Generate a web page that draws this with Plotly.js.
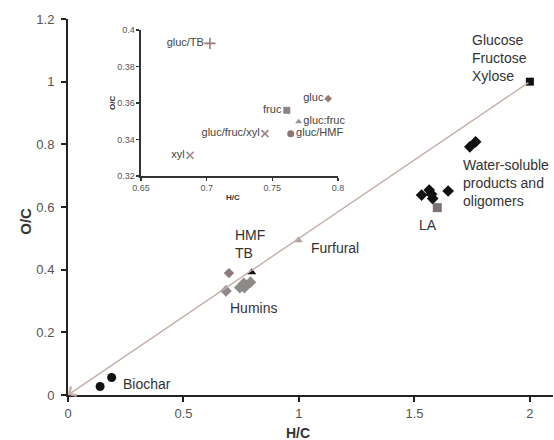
<!DOCTYPE html>
<html>
<head>
<meta charset="utf-8">
<script src="https://cdn.plot.ly/plotly-3.0.1.min.js"></script>
<style>html,body{margin:0;padding:0;background:#fff;}#chart{width:554px;height:440px;}</style>
</head>
<body>
<div id="chart"></div>
<script>
// ---- main chart data (H/C, O/C) ----
var sugarsX = [2.0];
var sugarsY = [1.0];
var waterSolX = [1.74, 1.765, 1.531, 1.564, 1.574, 1.579, 1.646];
var waterSolY = [0.792, 0.808, 0.638, 0.654, 0.641, 0.627, 0.651];
var laX = [1.599];
var laY = [0.598];
var furfuralX = [0.997];
var furfuralY = [0.494];
var hmfX = [0.697];
var hmfY = [0.389];
var tbX = [0.795];
var tbY = [0.392];
var huminsX = [0.684, 0.744, 0.761, 0.764, 0.770, 0.790];
var huminsY = [0.332, 0.343, 0.356, 0.343, 0.350, 0.360];
var biocharX = [0.139, 0.189];
var biocharY = [0.027, 0.056];
var refLineX = [0, 2];
var refLineY = [0, 1];

// ---- inset data (humins from different feeds) ----
var insetLabels = ["gluc/TB", "gluc", "fruc", "gluc:fruc", "gluc/HMF", "gluc/fruc/xyl", "xyl"];
var insetX = [0.7025, 0.7925, 0.761, 0.770, 0.764, 0.7444, 0.6873];
var insetY = [0.3927, 0.3624, 0.356, 0.3498, 0.3432, 0.3432, 0.3313];

var FONT = "Arial, 'Liberation Sans', sans-serif";

function mk(x, y, sym, color, size, xa, ya) {
  return {x: x, y: y, type: 'scatter', mode: 'markers', xaxis: xa || 'x', yaxis: ya || 'y',
    marker: {symbol: sym, color: color, size: size, line: {width: 0}}, hoverinfo: 'x+y', showlegend: false};
}

var traces = [
  mk(sugarsX, sugarsY, 'square', '#111', 8),
  mk(waterSolX, waterSolY, 'diamond', '#111', 9),
  mk(laX, laY, 'square', '#7d7575', 9),
  mk(furfuralX, furfuralY, 'triangle-up', '#aaa2a0', 8),
  mk(hmfX, hmfY, 'diamond', '#8d7d7a', 8),
  mk(huminsX, huminsY, 'diamond', '#8e8a8a', 9),
  mk(tbX, tbY, 'triangle-up', '#111', 8),
  mk(biocharX, biocharY, 'circle', '#111', 9)
];

// inset markers, each with own symbol
var insetSym = ['cross-thin-open', 'diamond', 'square', 'triangle-up', 'circle', 'x-thin-open', 'x-thin-open'];
var insetCol = ['#9a7e76', '#9a7a74', '#8c8282', '#9a8e8a', '#8a7672', '#a08480', '#a8908c'];
var insetSize = [8, 6, 7, 6, 7, 7, 7];
var insetPos = ['middle left', 'middle left', 'middle left', 'middle right', 'middle right', 'middle left', 'middle left'];
for (var i = 0; i < insetX.length; i++) {
  traces.push({
    x: [insetX[i]], y: [insetY[i]], type: 'scatter', mode: 'markers+text', xaxis: 'x2', yaxis: 'y2',
    text: [insetLabels[i]], textposition: insetPos[i],
    textfont: {family: FONT, size: 11, color: '#444'},
    marker: {symbol: insetSym[i], color: insetCol[i], size: insetSize[i],
      line: {width: (insetSym[i].indexOf('open') >= 0) ? 1.6 : 0, color: insetCol[i]}},
    showlegend: false, cliponaxis: false
  });
}

var lblFont = {family: FONT, size: 14, color: '#333'};
function lbl(text, x, y) {
  return {text: text, x: x, y: y, xref: 'x', yref: 'y', xanchor: 'left', yanchor: 'middle',
    showarrow: false, align: 'left', font: lblFont};
}

var annotations = [
  {x: refLineX[0], y: refLineY[0], ax: refLineX[1], ay: refLineY[1], xref: 'x', yref: 'y', axref: 'x', ayref: 'y',
   showarrow: true, arrowhead: 4, arrowsize: 1.5, arrowwidth: 1.4, arrowcolor: '#c6afa8', standoff: 0, text: ''},
  lbl('Glucose<br>Fructose<br>Xylose', 1.740, 1.077),
  lbl('Water-soluble<br>products and<br>oligomers', 1.701, 0.677),
  lbl('LA', 1.511, 0.543),
  lbl('HMF<br>TB', 0.714, 0.482),
  lbl('Furfural', 1.043, 0.470),
  lbl('Humins', 0.693, 0.279),
  lbl('Biochar', 0.229, 0.035),
  {text: '<b>O/C</b>', xref: 'paper', yref: 'paper', x: -0.087, y: 0.463, textangle: -90,
   showarrow: false, font: {family: FONT, size: 15, color: '#333'}, xanchor: 'center', yanchor: 'middle'},
  {text: '<b>H/C</b>', xref: 'paper', yref: 'paper', x: 0.475, y: -0.1,
   showarrow: false, font: {family: FONT, size: 14, color: '#333'}, xanchor: 'center', yanchor: 'middle'},
  {text: '<b>H/C</b>', xref: 'paper', yref: 'paper', x: 0.341, y: 0.524,
   showarrow: false, font: {family: FONT, size: 8, color: '#333'}, xanchor: 'center', yanchor: 'middle'},
  {text: '<b>O/C</b>', xref: 'paper', yref: 'paper', x: 0.093, y: 0.777, textangle: -90,
   showarrow: false, font: {family: FONT, size: 8, color: '#333'}, xanchor: 'center', yanchor: 'middle'}
];

var layout = {
  width: 554, height: 440,
  margin: {l: 68, r: 1, t: 19, b: 45},
  paper_bgcolor: '#fff', plot_bgcolor: 'rgba(0,0,0,0)',
  showlegend: false,
  font: {family: FONT},
  xaxis: {range: [0, 2.1], tickvals: [0, 0.5, 1, 1.5, 2], ticktext: ['0', '0.5', '1', '1.5', '2'],
    showgrid: false, zeroline: false, showline: true, linecolor: '#222', linewidth: 2,
    ticks: 'outside', ticklen: 5, tickwidth: 2, tickcolor: '#222',
    tickfont: {family: FONT, size: 13, color: '#555'}},
  yaxis: {range: [0, 1.2], tickvals: [0, 0.2, 0.4, 0.6, 0.8, 1, 1.2], ticktext: ['0', '0.2', '0.4', '0.6', '0.8', '1', '1.2'],
    showgrid: false, zeroline: false, showline: true, linecolor: '#222', linewidth: 2,
    ticks: 'outside', ticklen: 5, tickwidth: 2, tickcolor: '#222', ticklabelstandoff: 4,
    tickfont: {family: FONT, size: 13, color: '#555'}},
  xaxis2: {domain: [0.1505, 0.5567], anchor: 'y2', range: [0.65, 0.8],
    tickvals: [0.65, 0.7, 0.75, 0.8], ticktext: ['0.65', '0.7', '0.75', '0.8'],
    showgrid: false, zeroline: false, showline: true, linecolor: '#333', linewidth: 1.5,
    ticks: 'outside', ticklen: 3, tickwidth: 1.5, tickcolor: '#333',
    tickfont: {family: FONT, size: 9, color: '#555'}},
  yaxis2: {domain: [0.5824, 0.9707], anchor: 'x2', range: [0.32, 0.4],
    tickvals: [0.32, 0.34, 0.36, 0.38, 0.4], ticktext: ['0.32', '0.34', '0.36', '0.38', '0.4'],
    showgrid: false, zeroline: false, showline: true, linecolor: '#333', linewidth: 1.5,
    ticks: 'outside', ticklen: 3, tickwidth: 1.5, tickcolor: '#333',
    tickfont: {family: FONT, size: 9, color: '#555'}},
  annotations: annotations
};

Plotly.newPlot('chart', traces, layout, {displayModeBar: false, staticPlot: true});
</script>
</body>
</html>
